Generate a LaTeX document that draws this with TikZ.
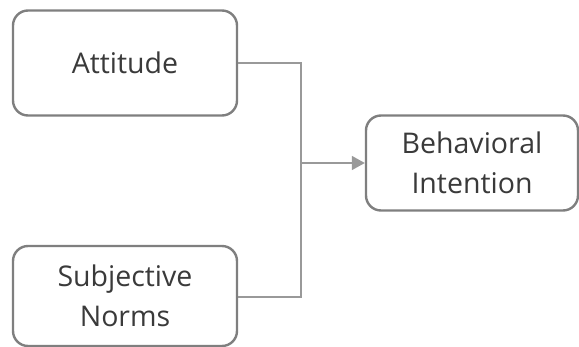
\documentclass[tikz,border=0pt]{standalone}
\usepackage{fontspec}
\setmainfont{Open Sans}
\usetikzlibrary{arrows.meta}
\definecolor{boxline}{HTML}{7F7F7F}
\definecolor{linkline}{HTML}{999999}
\definecolor{txt}{HTML}{3A3A3A}
\begin{document}
\begin{tikzpicture}[x=1pt,y=-1pt,
  factor/.style={draw=boxline, line width=2.4pt, rounded corners=15pt,
    fill=white, text=txt, align=center, inner sep=0pt,
    font=\fontsize{28.5}{40}\selectfont},
  link/.style={draw=linkline, line width=1.6pt}]
\useasboundingbox (0,0) rectangle (579,346);
\node[factor, minimum width=224pt, minimum height=105pt] (att) at (125,63) {Attitude};
\node[factor, minimum width=224pt, minimum height=100pt] (sn) at (125,296) {Subjective\\Norms};
\node[factor, minimum width=212pt, minimum height=95pt] (bi) at (472,163) {Behavioral\\Intention};
\coordinate (j1) at (301,63);
\coordinate (j2) at (301,297);
\coordinate (jm) at (301,163);
\draw[link] (att.east |- j1) -- (j1) -- (j2) -- (sn.east |- j2);
\draw[link, -{Triangle[length=13pt,width=14pt]}, fill=linkline] (jm) -- (bi.west |- jm);
\end{tikzpicture}
\end{document}
